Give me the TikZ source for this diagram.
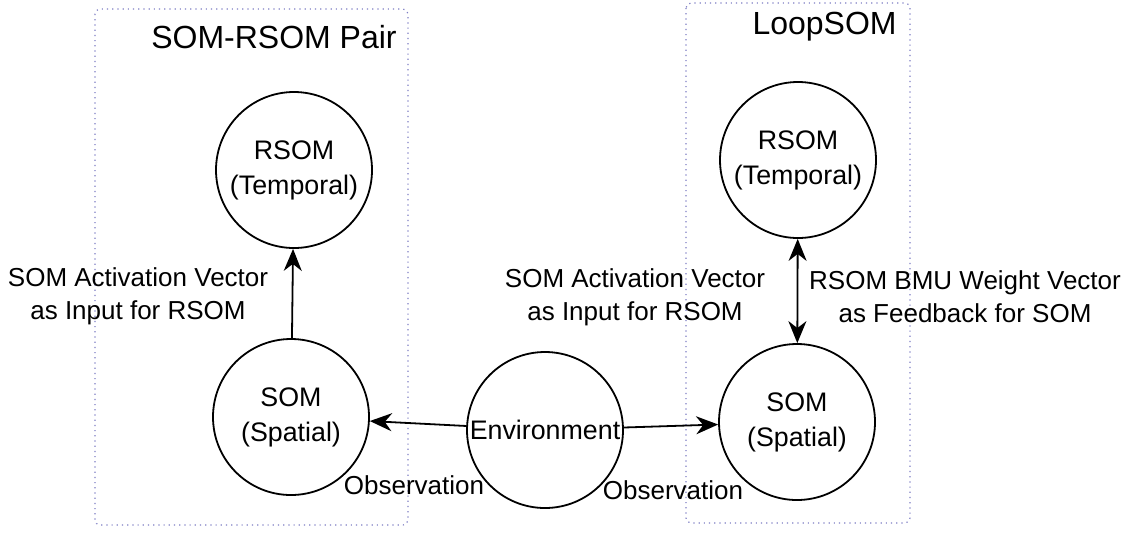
\documentclass[tikz,border=0pt]{standalone}
\usepackage{fontspec}
\setmainfont{Liberation Sans}
\usetikzlibrary{arrows.meta}
\definecolor{boxline}{RGB}{125,125,195}

\begin{document}
\begin{tikzpicture}[x=0.5pt,y=-0.5pt,
    mapnode/.style={draw,circle,line width=0.9pt,minimum size=78pt,inner sep=0pt,align=center,font=\fontsize{13.4}{17.5}\selectfont},%
    lbl/.style={align=center,inner sep=0pt,font=\fontsize{13}{16.5}\selectfont},%
    grp/.style={draw=boxline,dotted,line width=0.6pt,rounded corners=2.5pt},%
    flow/.style={line width=0.9pt,-{Stealth[length=11pt,width=9pt,inset=3.5pt]}},%
    loop/.style={line width=0.9pt,{Stealth[length=11pt,width=9pt,inset=3.5pt]}-{Stealth[length=11pt,width=9pt,inset=3.5pt]}}]%
  \useasboundingbox (0,0) rectangle (1133,532);%
  % group boxes
  \draw[grp] (95,9) rectangle (408,525);%
  \draw[grp] (686,3) rectangle (910,523);%
  \node[lbl,anchor=east,font=\fontsize{16}{19}\selectfont] (pairtitle) at (397,37) {SOM-RSOM Pair};%
  \node[lbl,anchor=east,font=\fontsize{16}{19}\selectfont] (looptitle) at (897,27) {LoopSOM};%
  % maps
  \node[mapnode] (lrsom) at (294,170) {RSOM\\(Temporal)};%
  \node[mapnode] (lsom) at (291,417) {SOM\\(Spatial)};%
  \node[mapnode] (env) at (545,430) {Environment};%
  \node[mapnode] (rrsom) at (798,160) {RSOM\\(Temporal)};%
  \node[mapnode] (rsom) at (797,422) {SOM\\(Spatial)};%
  % connectors
  \draw[flow] (lsom) -- (lrsom);%
  \draw[flow] (env) -- (lsom);%
  \draw[flow] (env) -- (rsom);%
  \draw[loop] (rrsom) -- (rsom);%
  % labels
  \node[lbl] (leftin) at (138,296) {SOM Activation Vector\\as Input for RSOM};%
  \node[lbl] (midin) at (635,297) {SOM Activation Vector\\as Input for RSOM};%
  \node[lbl] (feedback) at (965,297) {RSOM BMU Weight Vector\\as Feedback for SOM};%
  \node[lbl] (leftobs) at (414,485) {Observation};%
  \node[lbl] (rightobs) at (673,490) {Observation};%
\end{tikzpicture}
\end{document}
